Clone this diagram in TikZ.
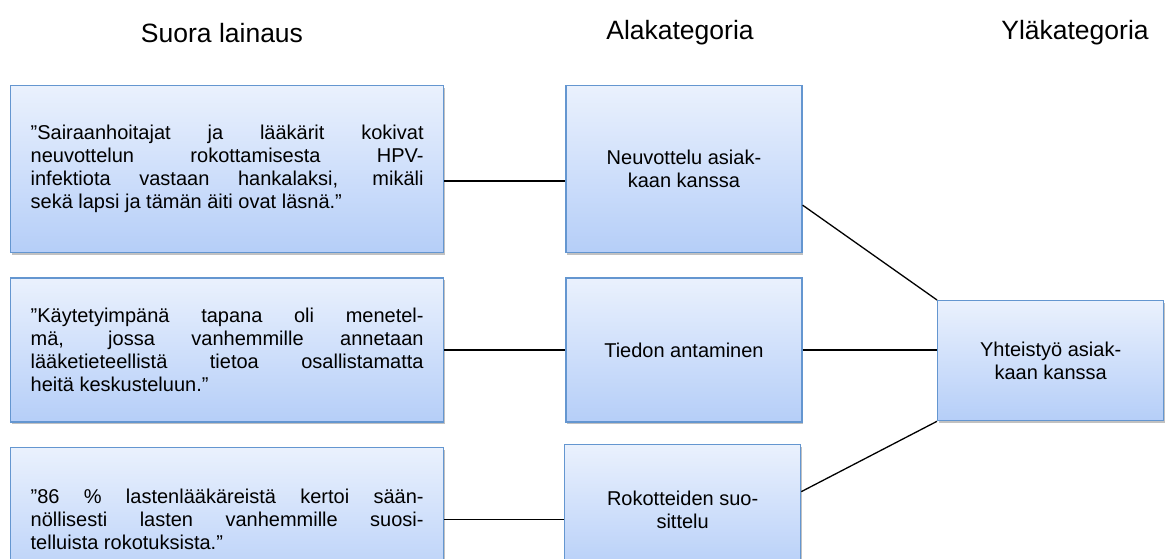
\documentclass[tikz,border=0pt]{standalone}
\usepackage{fontspec}
\setmainfont{Liberation Sans}
\usetikzlibrary{
    positioning,
    shadows
}
\definecolor{BoxTop}{RGB}{234,241,253}
\definecolor{BoxBot}{RGB}{181,206,248}
\definecolor{BoxLine}{RGB}{100,150,208}
\tikzset{
  box/.style    = {draw=BoxLine, line width=1.3pt, top color=BoxTop,
                   bottom color=BoxBot, inner sep=0pt,
                   drop shadow={shadow xshift=1.5pt, shadow yshift=-2.5pt,
                                opacity=0.35, fill=black!70}},
  qblock/.style = {box, minimum width=433pt, text width=393pt, align=justify,
                   font=\fontsize{20}{23}\selectfont},
  cblock/.style = {box, minimum width=236pt, align=center,
                   font=\fontsize{20}{23}\selectfont},
  hdr/.style    = {font=\fontsize{26.5}{30}\selectfont},
  link/.style   = {line width=1.3pt, black}
}

\begin{document}
\begin{tikzpicture}[x=1pt,y=-1pt]
\useasboundingbox (0,0) rectangle (1168,559);
\node[hdr] (h1) at (222,33) {Suora lainaus};
\node[hdr] (h2) at (680,33) {Alakategoria};
\node[hdr] (h3) at (1075,33) {Yläkategoria};
% quotes
\node[qblock,minimum height=167pt,anchor=north west] (quote1) at (10,85)
  {”Sairaanhoitajat ja lääkärit kokivat\linebreak neuvottelun rokottamisesta HPV-\linebreak infektiota vastaan hankalaksi, mikäli\linebreak sekä lapsi ja tämän äiti ovat läsnä.”};
\node[qblock,minimum height=144pt,below=24pt of quote1] (quote2)
  {”Käytetyimpänä tapana oli menetel-\linebreak mä, jossa vanhemmille annetaan\linebreak lääketieteellistä tietoa osallistamatta\linebreak heitä keskusteluun.”};
\node[qblock,minimum height=144pt,below=24pt of quote2] (quote3)
  {”86 \% lastenlääkäreistä kertoi sään-\linebreak nöllisesti lasten vanhemmille suosi-\linebreak telluista rokotuksista.”};
% subcategories
\node[cblock,minimum height=167pt,right=121pt of quote1] (sub1) {Neuvottelu asiak-\\kaan kanssa};
\node[cblock,minimum height=144pt,right=121pt of quote2] (sub2) {Tiedon antaminen};
\node[cblock,minimum height=130pt,anchor=north west] (sub3) at (564,444) {Rokotteiden suo-\\sittelu};
% main category
\node[cblock,minimum width=226pt,minimum height=120pt,anchor=north west] (upper) at (937,300) {Yhteistyö asiak-\\kaan kanssa};
\draw[link] ([yshift=-12pt]quote1.east) -- ([yshift=-12pt]sub1.west);
\draw[link] (quote2.east) -- (sub2.west);
\draw[link] (quote3.east) -- (quote3.east -| sub3.west);
\draw[link] ([yshift=-36pt]sub1.east) -- (upper.north west);
\draw[link] (sub2.east) -- (sub2.east -| upper.west);
\draw[link] ([yshift=18pt]sub3.east) -- (upper.south west);
\end{tikzpicture}
\end{document}
